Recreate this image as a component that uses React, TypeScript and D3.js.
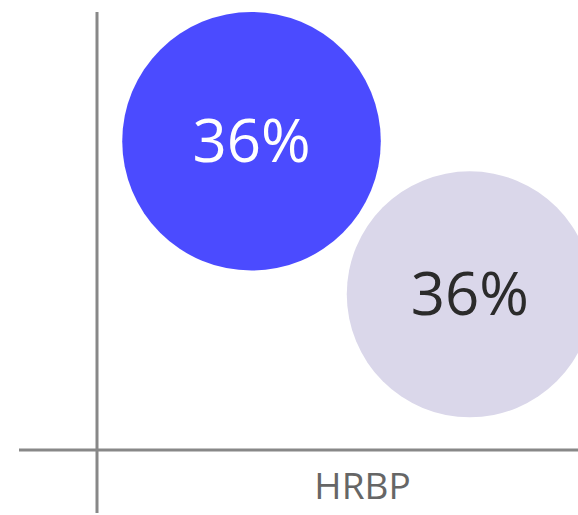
import React from "react";
import * as d3 from "d3";

const categories = ["HRBP"];
const seriesNames = ["A", "B"];
const seriesLabels = ["36%", "36%"];
const seriesX = [29.1, 70.2];
const seriesY = [68.6, 34.6];
const seriesSize = [98.9, 89.5];
const seriesColors = ["#4b4bff", "#dad7ea"];
const labelColors = ["#ffffff", "#2b2b2b"];

const W = 578;
const H = 515;

export default function App() {
  const axisX = 97;
  const axisY = 450;
  const band = d3.scaleBand().domain(categories).range([axisX, 628]);
  const bx = band(categories[0]) as number;
  const x = d3.scaleLinear().domain([0, 100]).range([bx, bx + band.bandwidth()]);
  const y = d3.scaleLinear().domain([0, 100]).range([axisY, 0]);
  const r = d3.scaleSqrt().domain([0, 100]).range([0, 130]);

  return (
    <svg
      width={W}
      height={H}
      style={{ position: "absolute", left: 0, top: 0, display: "block" }}
      fontFamily="'Open Sans', sans-serif"
    >
      <rect width={W} height={H} fill="#ffffff" />
      <line x1={axisX} x2={axisX} y1={12} y2={513} stroke="#888888" strokeWidth={3} />
      <line x1={19} x2={W} y1={axisY} y2={axisY} stroke="#888888" strokeWidth={3} />
      {seriesNames.map((s, i) => (
        <g key={s}>
          <circle cx={x(seriesX[i])} cy={y(seriesY[i])} r={r(seriesSize[i])} fill={seriesColors[i]} />
          <text
            x={x(seriesX[i])}
            y={y(seriesY[i])}
            dy={21}
            textAnchor="middle"
            fontSize={60}
            fill={labelColors[i]}
          >
            {seriesLabels[i]}
          </text>
        </g>
      ))}
      {categories.map((c) => (
        <text
          key={c}
          x={(band(c) as number) + band.bandwidth() / 2}
          y={499}
          textAnchor="middle"
          fontSize={37}
          fill="#666666"
        >
          {c}
        </text>
      ))}
    </svg>
  );
}
